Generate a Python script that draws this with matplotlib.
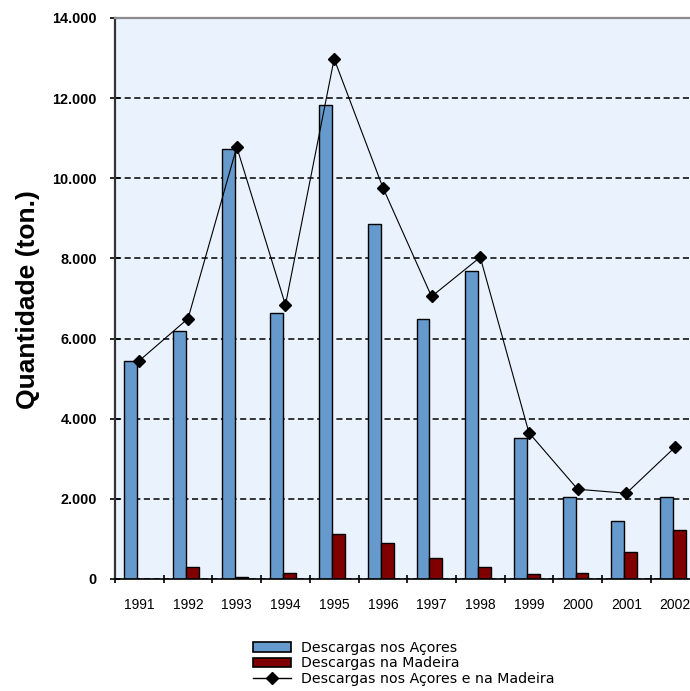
import matplotlib
matplotlib.use('Agg')
import matplotlib.pyplot as plt
from matplotlib.patches import Patch
from matplotlib.lines import Line2D
from matplotlib.ticker import FixedLocator, FuncFormatter
import numpy as np

# Landings (tonnes) per year
years = ["1991", "1992", "1993", "1994", "1995", "1996",
         "1997", "1998", "1999", "2000", "2001", "2002"]
acores = [5440, 6190, 10730, 6630, 11840, 8850, 6500, 7690, 3510, 2040, 1450, 2040]
madeira = [0, 307, 40, 160, 1120, 890, 530, 307, 117, 157, 670, 1220]
total = [5450, 6500, 10780, 6840, 12980, 9770, 7050, 8030, 3650, 2240, 2140, 3290]

label_acores = "Descargas nos Açores"
label_madeira = "Descargas na Madeira"
label_total = "Descargas nos Açores e na Madeira"

blue = "#6699CC"
red = "#800000"

fig = plt.figure(figsize=(6.9, 6.91), dpi=100)
ax = fig.add_axes([115 / 690, 112 / 691, 584.4 / 690, 561 / 691])
ax.set_facecolor("#EAF2FD")

x = np.arange(len(years))
bar_w = 0.265
ax.bar(x - 0.176, acores, width=bar_w, color=blue, edgecolor="black", linewidth=1.0, zorder=2)
ax.bar(x + 0.09, madeira, width=bar_w, color=red, edgecolor="black", linewidth=1.0, zorder=2)
ax.plot(x, total, color="black", linewidth=0.8, marker="D", markersize=6.5, zorder=3)

ax.set_xlim(-0.5, len(years) - 0.5)
ax.set_ylim(0, 14000)

# y axis
ax.yaxis.set_major_locator(FixedLocator(np.arange(0, 14001, 2000)))
ax.yaxis.set_major_formatter(FuncFormatter(lambda v, p: f"{int(v):,}".replace(",", ".")))
ax.tick_params(axis="y", direction="inout", length=7, width=1.2, pad=9.5,
               labelsize=10.4, colors="black")
for lab in ax.get_yticklabels():
    lab.set_fontfamily("Liberation Sans")
    lab.set_fontweight("bold")
ax.grid(axis="y", color="black", linestyle=(0, (4, 2.3)), linewidth=1.1, zorder=1)
ax.set_axisbelow(True)

# x axis: labels at centres, tick marks between categories
ax.set_xticks(x)
ax.set_xticklabels(years, fontfamily="Liberation Sans", fontsize=10)
ax.tick_params(axis="x", which="major", length=0, pad=14)
ax.set_xticks(np.arange(-0.5, len(years)), minor=True)
ax.tick_params(axis="x", which="minor", direction="inout", length=6, width=1.2)

ax.spines["top"].set_color("#8C8C8C")
ax.spines["top"].set_linewidth(1.6)
ax.spines["left"].set_color("#333333")
ax.spines["left"].set_linewidth(1.6)
ax.spines["bottom"].set_color("black")
ax.spines["bottom"].set_linewidth(1.2)
ax.spines["right"].set_visible(False)

fig.text(28 / 690, 1 - 300 / 691, "Quantidade (ton.)", rotation=90,
         ha="center", va="center", fontsize=19, fontweight="bold",
         fontfamily="Liberation Sans")

handles = [
    Patch(facecolor=blue, edgecolor="black", linewidth=1.2),
    Patch(facecolor=red, edgecolor="black", linewidth=1.2),
    Line2D([0], [0], color="black", linewidth=1.0, marker="D", markersize=6),
]
fig.legend(handles, [label_acores, label_madeira, label_total],
           loc="upper left", bbox_to_anchor=(253 / 690, 1 - 641 / 691),
           frameon=False, borderpad=0, borderaxespad=0,
           handlelength=2.7, handleheight=0.7, handletextpad=0.7,
           labelspacing=0.1, prop={"family": "DejaVu Sans", "size": 10.2})

fig.savefig("out.png", dpi=100)
